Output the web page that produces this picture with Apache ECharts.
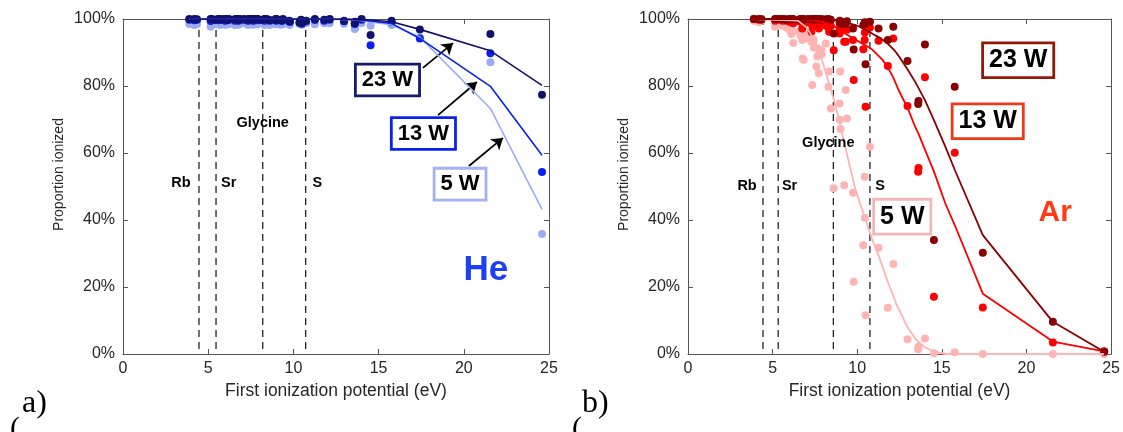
<!DOCTYPE html>
<html>
<head>
<meta charset="utf-8">
<script src="https://cdn.jsdelivr.net/npm/echarts@6.0.0/dist/echarts.min.js"></script>
<style>html,body{margin:0;padding:0;background:#fff}#chart{width:1123px;height:432px}</style>
</head>
<body>
<div id="chart"></div>
<script>
// elements measured, first ionization potential (eV)
var elementNames = ['Cs','Rb','K','Na','Ba','Li','La','Sr','In','Al','Ga','Ca','Gd','Y','Sc','Zr','V','Nb','Cr','Ti','Hf','Mo','Bi','Sn','Pb','Mn','Ag','Ni','Mg','Cu','Co','Fe','Si','B','Pd','Os','Sb','Pt','Ir','Cd','Te','Au','Be','Zn','Se','As','S','Hg','I','P','Rn','C','Br','Xe','Cl','H','O','Kr','N','Ar','F','Ne','He'];
var ionEnergy = [3.89,4.18,4.34,5.14,5.21,5.39,5.58,5.69,5.79,5.99,6.00,6.11,6.15,6.22,6.56,6.63,6.75,6.76,6.77,6.83,6.83,7.09,7.29,7.34,7.42,7.43,7.58,7.64,7.65,7.73,7.88,7.90,8.15,8.30,8.34,8.44,8.61,8.96,8.97,8.99,9.01,9.23,9.32,9.39,9.75,9.79,10.36,10.44,10.45,10.49,10.75,11.26,11.81,12.13,12.97,13.60,13.62,14.00,14.53,15.76,17.42,21.56,24.59];

// He plasma, proportion ionized (%)
var he5  = [98.5,98.2,98.5,97.7,98.2,98.4,98.8,98.2,98.5,98.6,98.3,98.8,98.4,98.6,98.2,98.7,98.5,98.9,98.3,98.6,98.4,98.8,98.5,98.2,98.7,98.4,98.6,98.9,98.3,98.5,98.7,98.4,98.8,98.2,98.5,98.6,98.2,98.7,98.4,98.5,98.8,98.3,98.6,98.4,98.7,98.2,98.5,98.6,98.4,98.3,98.7,98.4,98.7,98.7,98.6,97.0,97.3,98.8,98.0,98.2,94.5,87.1,35.8];
var he13 = [99.8,99.6,99.8,99.4,99.7,99.8,99.6,99.8,99.7,99.5,99.8,99.6,99.7,99.8,99.5,99.7,99.6,99.8,99.5,99.7,99.6,99.8,99.6,99.5,99.7,99.6,99.8,99.5,99.7,99.6,99.8,99.6,99.7,99.5,99.6,99.8,99.5,99.7,99.6,99.5,99.7,99.6,99.4,99.6,99.3,99.1,98.9,99.4,99.6,98.6,99.3,99.7,99.5,99.8,99.3,98.5,98.8,99.8,92.2,99.0,94.2,89.8,54.3];
var he23 = [100,100,99.9,100,100,99.8,100,100,99.9,100,100,99.8,100,100,99.9,100,99.8,100,100,99.9,100,100,99.8,100,99.9,100,100,99.8,100,99.9,100,100,99.8,100,99.9,100,99.7,100,99.8,99.9,100,99.7,99.8,100,99.5,99.3,99.0,99.5,99.8,98.8,99.5,100,99.8,100,99.5,98.7,99.2,100,95.2,99.5,96.9,95.5,77.4];

// Ar plasma, proportion ionized (%)
var ar5  = [99.5,99,99.5,97.7,98.5,98,99,98.3,97.5,96.8,97.2,95.5,96.5,92.8,96.2,95.2,93.7,94.5,88.2,87.8,95.5,94.2,93.2,80.3,93.8,91.5,85.8,88.8,91.2,83.8,90.7,89.5,92.7,79.8,84.3,73.3,49.5,74.8,69.9,84.3,67.2,50.4,78.8,70.3,48.1,21.6,32.5,52.9,40.7,11.6,61.9,31.7,13.8,26.9,4.4,1.4,2.2,4.6,0.2,0.5,0,0,0];
var ar13 = [100,99.8,100,99.5,99.8,100,99.5,99.8,99.5,99.2,99.5,99,99.5,98.7,99.5,99.2,97.2,99,98.8,98.5,99.2,99,96.2,98,99,98.5,98,98.2,98.6,97.2,99,98.8,98,97.5,96.2,98,90.7,95.7,97.2,98,96.5,93.2,93.2,96.8,93.7,81.8,91,93.7,96,73.8,97.5,93.5,86,94.2,74,54.4,55.5,82.6,17.1,60.1,13.9,3.4,0.8];
var ar23 = [100,100,99.8,100,100,99.9,100,100,99.8,100,100,99.9,100,100,99.8,100,100,99.9,100,99.8,100,100,99.9,100,100,99.8,100,99.9,100,100,99.8,100,99.9,100,99.7,99.8,95.7,99,99.5,99.2,98.6,99,98.5,99.3,97.2,90.9,98.2,99,98.6,86.5,99.2,97.2,93.7,97.7,87.5,74.6,75.5,92.4,34,79.8,30.2,9.6,0.7];

// model curves
var heFitX  = [3.89,12.13,13.60,14.53,15.76,17.42,21.56,24.59];
var he5Fit  = [100,100,99.7,99.2,98.2,94.6,73.3,43.2];
var he13Fit = [100,100,99.8,99.4,98.7,94.2,79.9,59.3];
var he23Fit = [100,100,99.9,99.7,99.2,96.9,90.5,80.2];

var arFitX  = [3.89,6.5,7.0,7.5,7.9,8.35,8.75,8.94,9.3,9.9,10.36,10.7,10.9,11.26,11.5,11.81,12.13,12.3,12.47,12.97,13.45,13.6,14.0,14.53,15.2,15.76,17.42,21.56,24.59];
var ar5Fit  = [100,99.5,97.5,93.5,88,80.5,73.5,69.5,61.5,49,42,37,34,29.5,26,21.5,17.3,15,13.2,8,4.5,3.7,2,0.8,0,0,0,0,0];
var ar13Fit = [100,100,99.8,99.5,99.2,98.5,97.5,96.8,95.6,93.8,92.5,91.5,90.8,89,87.8,85.5,82.5,80.5,78.5,73.5,67.5,66,61,54.5,45,38.5,18,3.7,0.8];
var ar23Fit = [100,100,100,99.9,99.8,99.7,99.6,99.4,99,98.2,97.2,96.2,95.6,94.6,93.8,92.6,91,90,88.8,85,81,79.6,75.8,69.8,62,55,35.5,9.6,0.7];

// reference compounds (dashed lines)
var refNames = ['Rb','Sr','Glycine','S'];
var heRefX = [4.46,5.46,8.20,10.72];
var arRefX = [4.43,5.33,8.59,10.75];

var powers = ['5 W','13 W','23 W'];
var heColors = ['#9cacf4','#0a20f0','#12126a'];
var heBoxColors = ['#a2b2f2','#0b22ef','#17186b'];
var arColors = ['#ffb4b4','#ff0000','#8a0000'];
var arBoxColors = ['#f2b8b8','#ec3a17','#8f1a06'];

var FONT = '"Liberation Sans", Arial, Helvetica, sans-serif';

function pairs(xs, ys) {
    return xs.map(function (x, i) { return [x, ys[i]]; });
}

var chart = echarts.init(document.getElementById('chart'));

function xAx(gi, top) {
    return {
        gridIndex: gi, type: 'value', min: 0, max: 25, interval: 5,
        position: top ? 'top' : 'bottom',
        name: top ? '' : 'First ionization potential (eV)',
        nameLocation: 'middle', nameGap: 20,
        nameTextStyle: {fontFamily: FONT, fontSize: 17.5, color: '#262626'},
        axisLine: {show: true, onZero: false, lineStyle: {color: '#555', width: 1}},
        axisTick: {show: true, inside: true, length: 5, lineStyle: {color: '#555'}},
        axisLabel: {show: !top, fontFamily: FONT, fontSize: 16, color: '#262626', margin: 7},
        splitLine: {show: false}
    };
}
function yAx(gi, right) {
    return {
        gridIndex: gi, type: 'value', min: 0, max: 100, interval: 20,
        position: right ? 'right' : 'left',
        name: right ? '' : 'Proportion ionized',
        nameLocation: 'middle', nameGap: 57,
        nameTextStyle: {fontFamily: FONT, fontSize: 14, color: '#262626', padding: [0, 0, 0, 24]},
        axisLine: {show: true, onZero: false, lineStyle: {color: '#555', width: 1}},
        axisTick: {show: true, inside: true, length: 5, lineStyle: {color: '#555'}},
        axisLabel: {show: !right, fontFamily: FONT, fontSize: 16, color: '#262626', margin: 8,
            formatter: function (v) { return v + '%'; }},
        splitLine: {show: false}
    };
}

function panelSeries(gi, vals, fits, fitX, colors, lineW, refX, refPos, boxes, boxColors, boxFont, gas, gasColor, arrows) {
    var s = [];
    // reference dashed lines
    refX.forEach(function (x) {
        s.push({type: 'line', xAxisIndex: gi, yAxisIndex: gi, data: [[x, 1.5], [x, 98.5]],
            showSymbol: false, silent: true, z: 1,
            lineStyle: {color: '#222', width: 1.3, type: [7, 5]}});
    });
    vals.forEach(function (v, k) {
        s.push({type: 'scatter', name: powers[k], xAxisIndex: gi, yAxisIndex: gi,
            data: pairs(ionEnergy, v), symbolSize: 8, z: 2 + k,
            itemStyle: {color: colors[k], opacity: 1}});
    });
    fits.forEach(function (f, k) {
        var ser = {type: 'line', xAxisIndex: gi, yAxisIndex: gi, data: pairs(fitX, f),
            showSymbol: false, silent: true, z: 6 + k,
            lineStyle: {color: colors[k], width: lineW}};
        if (k === 2 && arrows) {
            ser.markLine = {silent: true, symbol: ['none', 'arrow'], symbolSize: 11,
                label: {show: false}, animation: false,
                lineStyle: {color: '#000', width: 1.8, type: 'solid'},
                data: arrows.map(function (a) { return [{coord: a[0]}, {coord: a[1]}]; })};
        }
        s.push(ser);
    });
    // text labels for reference lines
    s.push({type: 'scatter', xAxisIndex: gi, yAxisIndex: gi, symbolSize: 0, silent: true, z: 10,
        itemStyle: {opacity: 1},
        data: refNames.map(function (n, i) { return {name: n, value: refPos[i]}; }),
        label: {show: true, position: 'inside', formatter: '{b}', fontFamily: FONT,
            fontWeight: 'bold', fontSize: 14.5, color: '#000'}});
    // power boxes
    s.push({type: 'scatter', xAxisIndex: gi, yAxisIndex: gi, symbolSize: 0, silent: true, z: 11,
        itemStyle: {opacity: 1},
        data: boxes.map(function (b, i) {
            return {name: powers[i], value: b, label: {borderColor: boxColors[i]}};
        }),
        label: {show: true, position: 'inside', formatter: '{b}', fontFamily: FONT,
            fontWeight: 'bold', fontSize: boxFont, color: '#000', backgroundColor: '#fff',
            borderWidth: 2.8, padding: [3, 5, 2, 5], lineHeight: boxFont + 2}});
    s.push({type: 'scatter', xAxisIndex: gi, yAxisIndex: gi, symbolSize: 0, silent: true, z: 11,
        itemStyle: {opacity: 1},
        data: [{name: gas[0], value: gas[1]}],
        label: {show: true, position: 'inside', formatter: '{b}', fontFamily: FONT,
            fontWeight: 'bold', fontSize: gas[2], color: gasColor}});
    return s;
}

var series = [].concat(
    panelSeries(0, [he5, he13, he23], [he5Fit, he13Fit, he23Fit], heFitX, heColors, 1.6, heRefX,
        [[3.4, 51], [6.2, 51], [8.2, 69], [11.4, 51]],
        [[19.78, 50.7], [17.63, 65.8], [15.52, 81.8]], heBoxColors, 22,
        ['He', [21.3, 25.1], 35], '#1c40f2',
        [[[17.6, 85.4], [19.37, 92.8]], [[18.49, 71.3], [20.77, 81.2]], [[20.3, 56.1], [22.3, 64.5]]]),
    panelSeries(1, [ar5, ar13, ar23], [ar5Fit, ar13Fit, ar23Fit], arFitX, arColors, 1.8, arRefX,
        [[3.49, 50.2], [6.0, 50.2], [8.29, 62.9], [11.35, 50.2]],
        [[12.66, 41], [17.71, 69.5], [19.51, 87.7]], arBoxColors, 25,
        ['Ar', [21.7, 42.1], 30], '#ff3b17', null)
);

chart.setOption({
    animation: false,
    backgroundColor: '#fff',
    grid: [
        {left: 123, top: 19, width: 426, height: 335},
        {left: 688, top: 19, width: 425, height: 335}
    ],
    xAxis: [xAx(0, false), xAx(1, false), xAx(0, true), xAx(1, true)],
    yAxis: [yAx(0, false), yAx(1, false), yAx(0, true), yAx(1, true)],
    graphic: [
        {type: 'text', left: 22, top: 388, style: {text: 'a)', font: '32px "Liberation Serif", serif', fill: '#000'}},
        {type: 'text', left: 10, top: 414, style: {text: '(', font: '30px "Liberation Serif", serif', fill: '#000'}},
        {type: 'text', left: 582, top: 388, style: {text: 'b)', font: '32px "Liberation Serif", serif', fill: '#000'}},
        {type: 'text', left: 572, top: 414, style: {text: '(', font: '30px "Liberation Serif", serif', fill: '#000'}}
    ],
    series: series
});
</script>
</body>
</html>
